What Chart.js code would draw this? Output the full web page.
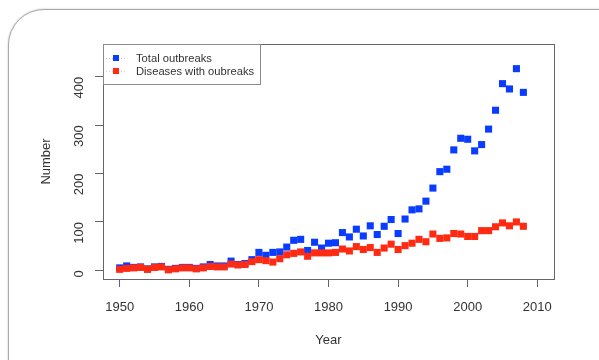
<!DOCTYPE html>
<html>
<head>
<meta charset="utf-8">
<script src="https://cdn.jsdelivr.net/npm/chart.js@4/dist/chart.umd.min.js"></script>
<style>
    html, body { margin: 0; padding: 0; background: #fff; }
    #wrap { position: relative; width: 599px; height: 360px; overflow: hidden; }
    #card {
        position: absolute; left: 8px; top: 9px; width: 640px; height: 400px;
        border: 1px solid #a9a9a9; border-radius: 36px;
        box-shadow: 0 0 2px rgba(0, 0, 0, 0.25);
        background: #fff;
    }
    #chart { position: absolute; left: 0; top: 0; }
</style>
</head>
<body>
<div id="wrap">
    <div id="card"></div>
    <canvas id="chart" width="599" height="360"></canvas>
</div>
<script>
var years = [1950, 1951, 1952, 1953, 1954, 1955, 1956, 1957, 1958, 1959,
    1960, 1961, 1962, 1963, 1964, 1965, 1966, 1967, 1968, 1969,
    1970, 1971, 1972, 1973, 1974, 1975, 1976, 1977, 1978, 1979,
    1980, 1981, 1982, 1983, 1984, 1985, 1986, 1987, 1988, 1989,
    1990, 1991, 1992, 1993, 1994, 1995, 1996, 1997, 1998, 1999,
    2000, 2001, 2002, 2003, 2004, 2005, 2006, 2007, 2008];

var totalOutbreaks = [5, 9, 6, 7, 3, 7, 8, 2, 4, 6,
    6, 4, 7, 12, 9, 9, 19, 12, 14, 22,
    37, 31, 37, 38, 48, 62, 64, 41, 58, 46,
    56, 57, 78, 69, 85, 71, 92, 74, 91, 105,
    76, 106, 125, 127, 143, 170, 204, 209, 249, 273,
    271, 247, 260, 292, 331, 386, 375, 417, 368];

var diseasesWithOutbreaks = [2, 4, 5, 6, 2, 6, 7, 1, 3, 5,
    5, 3, 5, 8, 7, 7, 13, 11, 12, 18,
    22, 20, 17, 24, 32, 35, 38, 29, 36, 36,
    36, 37, 44, 40, 49, 43, 47, 37, 46, 54,
    43, 51, 56, 64, 59, 75, 66, 67, 76, 75,
    70, 70, 82, 82, 90, 98, 92, 100, 91];

var xTicks = [1950, 1960, 1970, 1980, 1990, 2000, 2010];
var yTicks = [0, 100, 200, 300, 400];
var seriesLabels = ['Total outbreaks', 'Diseases with oubreaks'];

var FONT = '"Liberation Sans", Arial, Helvetica, sans-serif';
var BLUE = '#0a3cff';
var RED = '#ff2a12';
var AXIS = '#666666';
var TEXT = '#333333';

function toPoints(values) {
    return years.map(function (yr, i) {
        return { x: yr, y: values[i] };
    });
}

// R style frame round the plot + legend box in the top left corner
var frameAndLegend = {
    id: 'frameAndLegend',
    afterDraw: function (chart) {
        var ctx = chart.ctx;
        var a = chart.chartArea;
        ctx.save();
        ctx.strokeStyle = AXIS;
        ctx.lineWidth = 1;
        ctx.strokeRect(a.left + 0.5, a.top + 0.5, a.right - a.left, a.bottom - a.top);

        var bx = a.left, by = a.top, bw = 157, bh = 40;
        ctx.fillStyle = '#fff';
        ctx.fillRect(bx, by, bw, bh);
        ctx.strokeStyle = '#8a8a8a';
        ctx.strokeRect(bx + 0.5, by + 0.5, bw, bh);

        ctx.font = '11.2px ' + FONT;
        ctx.textBaseline = 'middle';
        chart.data.datasets.forEach(function (ds, i) {
            var ly = by + 14 + i * 13;
            ctx.strokeStyle = ds.legendLine;
            ctx.setLineDash([1, 2]);
            ctx.beginPath();
            ctx.moveTo(bx + 3, ly + 0.5);
            ctx.lineTo(bx + 23, ly + 0.5);
            ctx.stroke();
            ctx.setLineDash([]);
            ctx.fillStyle = ds.backgroundColor;
            ctx.fillRect(bx + 10, ly - 3, 6, 6);
            ctx.fillStyle = TEXT;
            ctx.fillText(ds.label, bx + 33, ly + 0.5);
        });
        ctx.restore();
    }
};

var ctx = document.getElementById('chart').getContext('2d');

var chart = new Chart(ctx, {
    type: 'scatter',
    data: {
        datasets: [{
            label: seriesLabels[0],
            data: toPoints(totalOutbreaks),
            backgroundColor: BLUE,
            borderColor: BLUE,
            legendLine: 'rgba(10,60,255,0.3)',
            pointStyle: 'rect',
            pointRadius: 5,
            pointBorderWidth: 0,
            order: 1
        }, {
            label: seriesLabels[1],
            data: toPoints(diseasesWithOutbreaks),
            backgroundColor: RED,
            borderColor: RED,
            legendLine: 'rgba(255,42,18,0.3)',
            pointStyle: 'rect',
            pointRadius: 5,
            pointBorderWidth: 0,
            order: 0
        }]
    },
    options: {
        responsive: false,
        animation: false,
        devicePixelRatio: 1,
        layout: { padding: { left: 0, top: 44, right: 45, bottom: 0 } },
        plugins: {
            legend: { display: false },
            tooltip: { enabled: false }
        },
        scales: {
            x: {
                type: 'linear',
                min: 1947.6,
                max: 2012.4,
                afterBuildTicks: function (scale) {
                    scale.ticks = xTicks.map(function (v) { return { value: v }; });
                },
                afterFit: function (scale) { scale.height = 81; },
                border: { display: false },
                grid: {
                    drawOnChartArea: false,
                    drawTicks: true,
                    tickLength: 8,
                    color: AXIS
                },
                ticks: {
                    autoSkip: false,
                    maxRotation: 0,
                    padding: 13,
                    color: TEXT,
                    font: { family: FONT, size: 13 },
                    callback: function (v) { return String(v); }
                },
                title: {
                    display: true,
                    text: 'Year',
                    color: TEXT,
                    font: { family: FONT, size: 13 },
                    padding: { top: 4, bottom: 12 }
                }
            },
            y: {
                type: 'linear',
                min: -18,
                max: 468,
                afterBuildTicks: function (scale) {
                    scale.ticks = yTicks.map(function (v) { return { value: v }; });
                },
                afterFit: function (scale) { scale.width = 103; },
                border: { display: false },
                grid: {
                    drawOnChartArea: false,
                    drawTicks: true,
                    tickLength: 8,
                    color: AXIS
                },
                ticks: {
                    autoSkip: false,
                    minRotation: 90,
                    maxRotation: 90,
                    padding: 16,
                    color: TEXT,
                    font: { family: FONT, size: 13 },
                    callback: function (v) { return String(v); }
                },
                title: {
                    display: true,
                    text: 'Number',
                    color: TEXT,
                    font: { family: FONT, size: 13 },
                    padding: { top: 39, bottom: 0 }
                }
            }
        }
    },
    plugins: [frameAndLegend]
});
</script>
</body>
</html>
